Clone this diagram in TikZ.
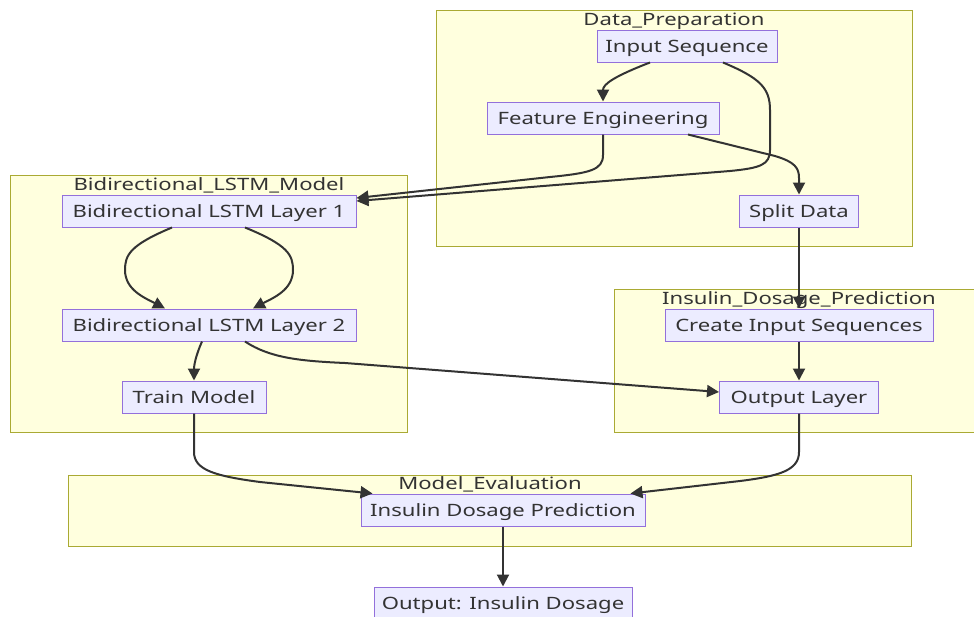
\documentclass[tikz,border=0pt]{standalone}
\usepackage{fontspec}
\setmainfont{Noto Sans}[FakeStretch=1.3]
\usetikzlibrary{arrows.meta, positioning}
\definecolor{clusterfill}{HTML}{FFFFDE}
\definecolor{clusterline}{HTML}{AAAA33}
\definecolor{boxfill}{HTML}{ECECFF}
\definecolor{boxline}{HTML}{9370DB}
\definecolor{edgegrey}{HTML}{333333}

\begin{document}
\begin{tikzpicture}[x=1pt, y=-1pt,
    box/.style={draw=boxline, fill=boxfill, line width=1pt, minimum height=32pt,
                inner xsep=0pt, text height=12pt, text depth=0pt,
                font=\fontsize{17}{20}\selectfont, text=edgegrey},
    cluster/.style={draw=clusterline, fill=clusterfill, line width=1pt},
    ctitle/.style={font=\fontsize{17}{20}\selectfont, text=edgegrey,
                   text height=12pt, text depth=0pt},
    flow/.style={draw=edgegrey, line width=2pt, -{Triangle[length=12pt,width=12pt]}}]
  \useasboundingbox[fill=white] (0,0) rectangle (974,616);

  % Subgraphs
  \draw[cluster] (436,10) rectangle (912,246);
  \node[ctitle] (tprep) at (674,19) {Data\_Preparation};
  \draw[cluster] (10,175) rectangle (407,432);
  \node[ctitle] (tlstm) at (209,184) {Bidirectional\_LSTM\_Model};
  \draw[cluster] (614,289) rectangle (980,432);
  \node[ctitle] (tpred) at (799,298) {Insulin\_Dosage\_Prediction};
  \draw[cluster] (68,475) rectangle (911,546);
  \node[ctitle] (teval) at (490,483) {Model\_Evaluation};

  % Nodes
  \node[box, minimum width=180pt] (inseq) at (687,46) {Input Sequence};
  \node[box, minimum width=232pt] (feat) at (603,118) {Feature Engineering};
  \node[box, minimum width=119pt] (split) at (799,211) {Split Data};
  \node[box, minimum width=294pt] (lstmA) at (209,211) {Bidirectional LSTM Layer 1};
  \node[box, minimum width=294pt] (lstmB) at (209,325) {Bidirectional LSTM Layer 2};
  \node[box, minimum width=144pt] (train) at (194,397) {Train Model};
  \node[box, minimum width=268pt] (create) at (799,325) {Create Input Sequences};
  \node[box, minimum width=159pt] (outlayer) at (799,397) {Output Layer};
  \node[box, minimum width=284pt] (predict) at (503,510) {Insulin Dosage Prediction};
  \node[box, minimum width=258pt] (dosage) at (503,603) {Output: Insulin Dosage};

  % Edges
  \draw[flow] ([xshift=-37pt]inseq.south) .. controls (615,76) and (603,84) .. (feat.north);
  \draw[flow] ([xshift=36pt]inseq.south) .. controls (760,78) and (770,88) .. (770,110)
      -- (770,150) .. controls (770,165) and (760,168) .. (730,171) -- ([yshift=10pt]lstmA.east);
  \draw[flow] (feat.south) -- (603,155) .. controls (603,170) and (590,173) .. (550,177)
      -- ([yshift=13pt]lstmA.east);
  \draw[flow] ([xshift=85pt]feat.south) -- (775,156) .. controls (795,162) and (799,168) .. (799,178)
      -- (split.north);
  \draw[flow] (split.south) -- (create.north);
  \draw[flow] ([xshift=-37pt]lstmA.south) .. controls (130,245) and (125,255) .. (125,270)
      .. controls (125,290) and (145,298) .. ([xshift=-44pt]lstmB.north);
  \draw[flow] ([xshift=36pt]lstmA.south) .. controls (288,245) and (293,255) .. (293,270)
      .. controls (293,290) and (273,298) .. ([xshift=44pt]lstmB.north);
  \draw[flow] ([xshift=-7pt]lstmB.south) .. controls (196,355) and (194,365) .. (train.north);
  \draw[flow] ([xshift=36pt]lstmB.south) .. controls (270,358) and (300,361) .. (345,363)
      -- ([yshift=5pt]outlayer.west);
  \draw[flow] (create.south) -- (outlayer.north);
  \draw[flow] (train.south) -- (194,452) .. controls (194,470) and (215,476) .. (260,482)
      -- ([xshift=12pt]predict.north west);
  \draw[flow] (outlayer.south) -- (799,452) .. controls (799,470) and (780,476) .. (740,481)
      -- ([xshift=-15pt]predict.north east);
  \draw[flow] (predict.south) -- (dosage.north);
\end{tikzpicture}
\end{document}
